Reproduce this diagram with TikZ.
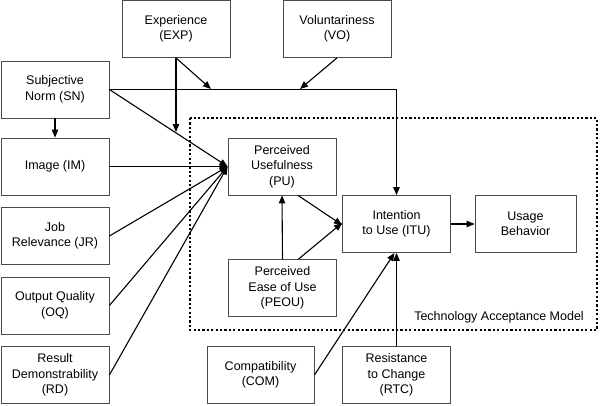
\documentclass[tikz,border=0pt]{standalone}
\usepackage{fontspec}
\setmainfont{Liberation Sans}
\usetikzlibrary{arrows.meta}
\begin{document}
\begin{tikzpicture}[x=1pt,y=-1pt,
  box/.style={draw=black!70,line width=0.8pt,fill=white,align=center,
    minimum width=108pt,minimum height=57pt,inner sep=0pt,
    font=\fontsize{12.5}{15.5}\selectfont},
  link/.style={-{Triangle[length=8pt,width=6.5pt]},line width=1.1pt},
  tam/.style={line width=2.2pt,dash pattern=on 2.2pt off 2.2pt}]
\useasboundingbox (0,0) rectangle (600,405);
\draw[tam] (190,118) rectangle (597,330);
\node[anchor=east,inner sep=0pt,font=\fontsize{12.5}{15}\selectfont] (lbl) at (584,317) {Technology Acceptance Model};
\node[box] (exp) at (176,29) {Experience\\(EXP)};
\node[box] (vo) at (337,29) {Voluntariness\\(VO)};
\node[box] (sn) at (55,89.5) {Subjective\\Norm (SN)};
\node[box] (im) at (55,166.5) {Image (IM)};
\node[box] (jr) at (55,236) {Job\\Relevance (JR)};
\node[box] (oq) at (55,305.5) {Output Quality\\(OQ)};
\node[box] (rd) at (55,375) {Result\\Demonstrability\\(RD)};
\node[box] (pu) at (282,166.5) {Perceived\\Usefulness\\(PU)};
\node[box] (peou) at (282.5,288) {Perceived\\Ease of Use\\(PEOU)};
\node[box] (itu) at (396.5,224) {Intention\\to Use (ITU)};
\node[box,minimum width=101pt] (ub) at (525.5,224) {Usage\\Behavior};
\node[box,minimum width=107pt] (com) at (260.5,375) {Compatibility\\(COM)};
\node[box] (rtc) at (396.5,375) {Resistance\\to Change\\(RTC)};
\coordinate (m1) at (211,89);
\coordinate (m2) at (300,89);
\coordinate (m3) at (176,132);
\draw[link] (sn.east) -| (itu.north);
\draw[link] (exp.south) to (m1);
\draw[link] (vo.south) to (m2);
\draw[link] (exp.south) to (m3);
\draw[link] (sn.south) to (im.north);
\draw[link] (sn.east) to (pu.west);
\draw[link] (im.east) to (pu.west);
\draw[link] (jr.east) to (pu.west);
\draw[link] (oq.east) to (pu.west);
\draw[link] (rd.east) to (pu.west);
\draw[link] (peou.north) to (pu.south);
\draw[link] ([xshift=16pt]pu.south) to ([yshift=-1pt]itu.west);
\draw[link] ([xshift=16pt]peou.north) to ([yshift=1pt]itu.west);
\draw[link] (itu.east) to (ub.west);
\draw[link] (com.east) to ([xshift=-2pt]itu.south);
\draw[link] (rtc.north) to (itu.south);
\end{tikzpicture}
\end{document}
